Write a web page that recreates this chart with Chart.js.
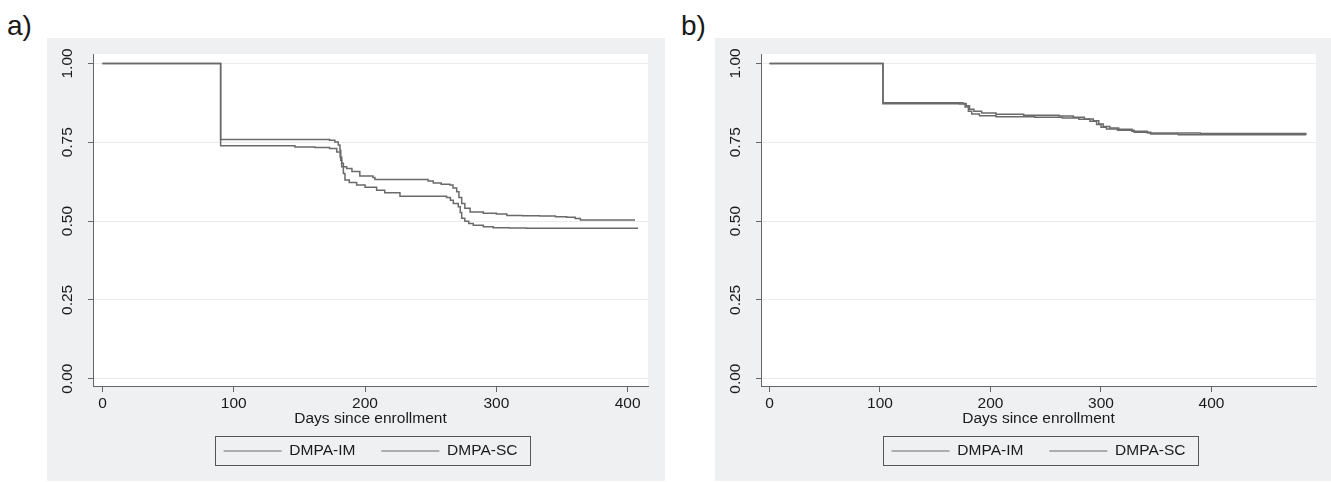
<!DOCTYPE html>
<html><head><meta charset="utf-8">
<script src="https://cdn.jsdelivr.net/npm/chart.js@4.4.1/dist/chart.umd.min.js"></script>
<style>
html,body{margin:0;padding:0;background:#fff;width:1331px;height:482px;overflow:hidden;position:relative;font-family:"Liberation Sans",Arial,sans-serif}
.panel{position:absolute;top:38px;background:#eff0f2;}
.panel canvas{display:block}
.lab{position:absolute;top:12px;font-size:28px;line-height:28px;color:#1a1a1a}
</style></head><body>
<div class="lab" style="left:7px">a)</div>
<div class="lab" style="left:681px">b)</div>
<div class="panel" style="left:47px;width:618px;height:443px"><canvas id="ca" width="618" height="443"></canvas></div>
<div class="panel" style="left:715px;width:616px;height:443px"><canvas id="cb" width="616" height="443"></canvas></div>
<script>
// ---- data ----
const seriesNames = ['DMPA-IM', 'DMPA-SC'];
const xTicks = [0, 100, 200, 300, 400];
const yTicks = [0, 0.25, 0.5, 0.75, 1];
const yTickLabels = ['0.00', '0.25', '0.50', '0.75', '1.00'];
const xTitle = 'Days since enrollment';

// panel a
const aImDays = [0, 90, 146.6, 161.8, 173, 178.4, 181, 182.2, 183.5, 184.7, 188, 193.6, 200, 208.8, 215, 226.6, 262.1, 265, 267.2, 271, 272.5, 273.6, 276, 279, 282.4, 290, 297.6, 310, 323.1, 408];
const aImSurv = [1, 0.739, 0.735, 0.733, 0.730, 0.719, 0.703, 0.683, 0.651, 0.630, 0.622, 0.614, 0.607, 0.598, 0.590, 0.579, 0.575, 0.566, 0.556, 0.545, 0.527, 0.509, 0.499, 0.492, 0.487, 0.482, 0.479, 0.478, 0.477, 0.477];
const aScDays = [0, 90, 170, 173, 177, 179.6, 180.9, 181.5, 182.2, 186, 190, 196, 206, 207.5, 244, 248, 252, 258, 264.6, 267, 269.8, 271.5, 273.6, 276, 280, 290, 300, 308, 320, 333, 345, 353.5, 360, 364, 405.6];
const aScSurv = [1, 0.759, 0.759, 0.756, 0.751, 0.741, 0.725, 0.693, 0.672, 0.667, 0.657, 0.643, 0.638, 0.632, 0.632, 0.627, 0.621, 0.617, 0.614, 0.605, 0.593, 0.575, 0.556, 0.541, 0.529, 0.525, 0.522, 0.518, 0.517, 0.516, 0.514, 0.512, 0.508, 0.503, 0.503];

// panel b
const bImDays = [0, 102.7, 172, 177, 180, 183, 190, 205, 240, 265, 280, 290, 296, 300, 305, 315, 330, 345, 370, 485.5];
const bImSurv = [1, 0.872, 0.871, 0.862, 0.848, 0.840, 0.834, 0.831, 0.829, 0.827, 0.823, 0.817, 0.806, 0.798, 0.792, 0.788, 0.782, 0.776, 0.774, 0.773];
const bScDays = [0, 102.7, 175, 178, 181, 185, 192, 205, 230, 262, 275, 285, 293, 298, 302, 308, 316, 328, 342, 390, 485.5];
const bScSurv = [1, 0.875, 0.873, 0.866, 0.855, 0.848, 0.843, 0.839, 0.836, 0.833, 0.829, 0.824, 0.818, 0.808, 0.800, 0.795, 0.791, 0.785, 0.779, 0.778, 0.777];

// ---- drawing ----
const FAM = '"Liberation Sans", Arial, sans-serif';
const font = {family: FAM, size: 15.5, lineHeight: 1};
const TXT = '#1a1a1a';
const LINE = '#6a6a6a';
const AX = '#666';

const panelPlugin = {
  id: 'panel',
  beforeDraw(chart) {
    const {ctx, chartArea: a} = chart;
    ctx.save();
    ctx.fillStyle = '#fff';
    ctx.fillRect(a.left, a.top, a.right - a.left, a.bottom - a.top);
    ctx.restore();
  },
  afterDraw(chart) {
    const {ctx, chartArea: a} = chart;
    const y = chart.scales.y;
    ctx.save();
    ctx.fillStyle = TXT;
    ctx.font = '15.5px ' + FAM;
    ctx.textAlign = 'center';
    ctx.textBaseline = 'middle';
    yTicks.forEach((v, i) => {
      const py = y.getPixelForValue(v);
      ctx.save();
      ctx.translate(a.left - 25, py);
      ctx.rotate(-Math.PI / 2);
      ctx.fillText(yTickLabels[i], 0, 0);
      ctx.restore();
    });
    const hb = chart.legend && chart.legend.legendHitBoxes;
    if (hb && hb.length) {
      const l = Math.min(...hb.map(h => h.left)) - 9;
      const r = Math.max(...hb.map(h => h.left + h.width)) + 12;
      const cy = hb[0].top + hb[0].height / 2;
      ctx.strokeStyle = '#555';
      ctx.lineWidth = 1;
      ctx.strokeRect(Math.round(l) + 0.5, Math.round(cy - 15) + 0.5, Math.round(r - l), 29);
    }
    ctx.restore();
  }
};

function makeChart(id, sets, xmin, xmax, padRight) {
  return new Chart(document.getElementById(id), {
    type: 'line',
    data: {
      datasets: sets.map(s => ({
        label: s.name,
        data: s.t.map((t, i) => ({x: t, y: s.s[i]})),
        borderColor: LINE, backgroundColor: LINE,
        borderWidth: 1.5, pointRadius: 0, stepped: true, fill: false
      }))
    },
    options: {
      responsive: false, animation: false, devicePixelRatio: 1,
      layout: {padding: {left: 46, right: padRight, top: 16, bottom: 12.25}},
      plugins: {
        tooltip: {enabled: false},
        legend: {
          position: 'bottom',
          labels: {
            boxWidth: 58, boxHeight: 1, padding: 26, font: font, color: TXT,
            generateLabels: ch => ch.data.datasets.map((ds, i) => ({
              text: ds.label, fillStyle: LINE, strokeStyle: LINE, lineWidth: 0,
              hidden: false, datasetIndex: i, fontColor: TXT
            }))
          }
        }
      },
      scales: {
        x: {
          type: 'linear', min: xmin, max: xmax,
          afterBuildTicks: s => { s.ticks = xTicks.map(v => ({value: v})); },
          afterFit: s => { s.height = 31.25; },
          grid: {display: true, drawOnChartArea: false, drawTicks: true, tickLength: 6, tickColor: AX},
          border: {display: true, color: AX, width: 1},
          ticks: {font: font, color: TXT, padding: 4.25, maxRotation: 0, autoSkip: false},
          title: {display: true, text: xTitle, font: font, color: TXT, padding: {top: 0, bottom: -9.7}}
        },
        y: {
          type: 'linear', min: -0.0233, max: 1.030,
          afterBuildTicks: s => { s.ticks = yTicks.map(v => ({value: v})); },
          afterFit: s => { s.width = 0; },
          ticks: {display: false},
          grid: {color: '#ebebeb', tickColor: AX, tickLength: 5, drawTicks: true},
          border: {display: true, color: AX, width: 1}
        }
      }
    },
    plugins: [panelPlugin]
  });
}

makeChart('ca', [
  {name: seriesNames[0], t: aImDays, s: aImSurv},
  {name: seriesNames[1], t: aScDays, s: aScSurv}
], -7.2, 415.5, 17);

makeChart('cb', [
  {name: seriesNames[0], t: bImDays, s: bImSurv},
  {name: seriesNames[1], t: bScDays, s: bScSurv}
], -7.7, 494.6, 15);
</script>
</body></html>
